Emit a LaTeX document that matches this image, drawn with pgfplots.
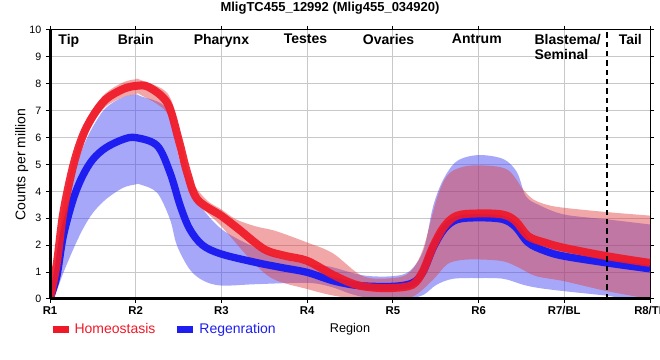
\documentclass[border=0pt]{standalone}
\usepackage{fontspec}
\setmainfont{Liberation Sans}
\usepackage{pgfplots}
\pgfplotsset{compat=1.18}
\usepgfplotslibrary{fillbetween}
\definecolor{lineRed}{RGB}{240,25,40}
\definecolor{lineBlue}{RGB}{30,30,240}
\definecolor{bandRed}{RGB}{224,60,60}
\definecolor{bandBlue}{RGB}{60,60,245}
\definecolor{gridgray}{RGB}{200,200,200}
\begin{document}
\begin{tikzpicture}
\begin{axis}[
  scale only axis, width=450pt, height=201.75pt,
  xmin=0, xmax=7, ymin=0, ymax=10,
  xtick={0,1,2,3,4,5,6,7},
  xticklabels={R1,R2,R3,R4,R5,R6,R7/BL,R8/TL},
  ytick={0,1,...,10},
  grid=major, grid style={gridgray, line width=0.75pt},
  axis line style={black, line width=0.75pt},
  tick style={black, line width=0.75pt}, major tick length=3pt, tick align=outside,
  x tick label style={font=\bfseries\fontsize{8.5}{10}\selectfont, yshift=1pt},
  y tick label style={font=\fontsize{8}{10}\selectfont},
  /pgf/number format/assume math mode=true,
  clip mode=individual,
  xlabel={Region},
  xlabel style={at={(axis description cs:0.5,-0.114)}, anchor=center, font=\fontsize{9.5}{12}\selectfont},
  ylabel={Counts per million},
  ylabel style={at={(axis description cs:-0.047,0.5)}, anchor=center, font=\fontsize{10.5}{12}\selectfont},
  legend style={draw=none, fill=none, at={(axis description cs:-0.004,-0.114)}, anchor=west,
    font=\fontsize{10.5}{12}\selectfont, inner sep=1pt},
  legend columns=2,
  legend cell align=left,
  /tikz/every even column/.append style={column sep=12pt},
  legend image code/.code={\draw[#1, line width=5pt] (0pt,0pt) -- (12pt,0pt);},
]
% ---- Regeneration band ----
\addplot[name path=bU, draw=none, smooth, tension=0.55, forget plot] coordinates {
(0,0) (0.08,1.1) (0.155,2.8) (0.27,4.5) (0.38,5.6) (0.5,6.4) (0.65,7.1) (0.85,7.5) (1.0,7.6) (1.05,7.55)
(1.37,7.05) (1.5,5.3) (1.63,4.2) (1.72,3.6) (2.0,2.6) (2.4,1.9) (2.7,1.5) (3.0,1.3) (3.27,1.2)
(3.65,0.88) (4.0,0.85) (4.2,1.05) (4.36,1.84) (4.47,3.45) (4.59,4.45) (4.75,5.13) (5.0,5.35) (5.29,5.2)
(5.45,4.7) (5.55,3.83) (5.7,3.5) (6.0,3.14) (6.5,2.96) (7.0,2.77)};
\addplot[name path=bL, draw=none, smooth, tension=0.55, forget plot] coordinates {
(0,0) (0.08,0.35) (0.155,0.97) (0.27,1.84) (0.38,2.58) (0.5,3.2) (0.65,3.7) (0.85,4.13) (1.0,4.26) (1.05,4.26)
(1.25,3.95) (1.4,2.96) (1.48,2.0) (1.63,1.1) (1.79,0.68) (2.0,0.5) (2.4,0.55) (3.0,0.6) (3.27,0.46)
(3.5,0.2) (3.7,0.05) (4.0,0) (4.2,0.02) (4.36,0.16) (4.51,0.53) (4.7,0.75) (5.0,0.78) (5.29,0.75)
(5.52,0.53) (5.7,0.41) (6.0,0.29) (6.5,0.12) (6.73,0) (7.0,0)};
\addplot[fill=bandBlue, fill opacity=0.45, draw=none, forget plot] fill between[of=bU and bL];
\addplot[lineBlue, line width=5.5pt, smooth, tension=0.55, forget plot] coordinates {
(0,0) (0.08,0.84) (0.155,2.33) (0.27,3.7) (0.38,4.57) (0.5,5.19) (0.65,5.62) (0.85,5.93) (1.0,6.0)
(1.25,5.7) (1.4,4.7) (1.52,3.46) (1.63,2.6) (1.78,2.0) (2.0,1.67) (2.4,1.36) (2.7,1.17) (3.0,0.99)
(3.3,0.68) (3.6,0.5) (4.0,0.47) (4.23,0.6) (4.35,1.0) (4.47,1.9) (4.6,2.6) (4.75,2.95) (5.0,3.02)
(5.28,2.96) (5.43,2.68) (5.58,2.09) (5.78,1.78) (6.0,1.59) (6.5,1.34) (7.0,1.12)};
% ---- Homeostasis band ----
\addplot[name path=rU, draw=none, smooth, tension=0.55, forget plot] coordinates {
(0,0) (0.08,1.6) (0.155,3.5) (0.27,5.2) (0.38,6.3) (0.5,7.05) (0.65,7.65) (0.85,8.05) (1.0,8.17) (1.05,8.15)
(1.37,7.65) (1.5,6.4) (1.63,4.57) (1.82,3.7) (2.0,3.33) (2.17,2.96) (2.4,2.7) (2.63,2.53) (3.0,2.1)
(3.3,1.7) (3.65,0.85) (4.0,0.78) (4.2,1.0) (4.35,1.84) (4.51,3.7) (4.63,4.57) (4.78,4.88) (5.0,4.97)
(5.33,4.82) (5.52,4.07) (5.64,3.7) (5.8,3.5) (6.0,3.39) (6.5,3.23) (7.0,3.1)};
\addplot[name path=rL, draw=none, smooth, tension=0.55, forget plot] coordinates {
(0,0) (0.08,1.1) (0.155,2.83) (0.27,4.57) (0.38,5.75) (0.5,6.55) (0.65,7.15) (0.85,7.5) (1.0,7.6) (1.05,7.6)
(1.37,6.9) (1.5,5.4) (1.67,3.8) (2.0,2.7) (2.33,1.5) (2.6,0.75) (3.0,0.37) (3.27,0.15) (3.5,0.05)
(4.0,0) (4.24,0.1) (4.47,0.72) (4.63,1.28) (4.78,1.44) (5.0,1.47) (5.29,1.4) (5.48,1.15) (5.67,0.85)
(6.0,0.66) (6.5,0.29) (7.0,0)};
\addplot[fill=bandRed, fill opacity=0.45, draw=none, forget plot] fill between[of=rU and rL];
\addplot[lineRed, line width=6pt, opacity=0.92, smooth, tension=0.55, forget plot] coordinates {
(0,0) (0.08,1.34) (0.155,3.2) (0.27,4.94) (0.38,6.05) (0.5,6.8) (0.65,7.42) (0.85,7.8) (1.0,7.92)
(1.15,7.88) (1.37,7.28) (1.5,5.93) (1.6,4.7) (1.72,3.7) (2.0,3.09) (2.2,2.6) (2.5,1.85) (2.75,1.6)
(3.0,1.42) (3.3,0.9) (3.55,0.55) (3.75,0.43) (4.0,0.41) (4.23,0.53) (4.35,1.03) (4.47,1.96) (4.6,2.7)
(4.75,3.1) (5.0,3.18) (5.28,3.14) (5.43,2.9) (5.58,2.33) (5.78,2.09) (6.0,1.9) (6.5,1.59) (7.0,1.34)};
% ---- dashed separator ----
\addplot[black, line width=1.5pt, dash pattern=on 4pt off 3pt, forget plot] coordinates {(6.5,0) (6.5,10)};
% ---- legend ----
\addlegendimage{lineRed}
\addlegendentry{\textcolor{lineRed}{Homeostasis}}
\addlegendimage{lineBlue}
\addlegendentry{\textcolor{lineBlue}{Regenration}}
% ---- thick axes ----
\draw[black, line width=2.25pt] (axis cs:0,0) -- (axis cs:0,10);
\draw[black, line width=2.25pt] (axis cs:0,0) -- (axis cs:7,0);
% ---- title ----
\node[font=\bfseries\fontsize{9.75}{12}\selectfont, anchor=center, inner sep=0pt] at (rel axis cs:0.4667,1.08) {MligTC455\_12992 (Mlig455\_034920)};
% ---- region labels ----
\begin{scope}[every node/.style={font=\bfseries\fontsize{10.5}{11.25}\selectfont, anchor=north, inner sep=0pt}]
\node at (axis cs:0.22,9.85) {Tip};
\node at (axis cs:1.0,9.85) {Brain};
\node at (axis cs:2.0,9.85) {Pharynx};
\node at (axis cs:2.98,9.85) {Testes};
\node at (axis cs:3.95,9.85) {Ovaries};
\node at (axis cs:4.98,9.85) {Antrum};
\node[anchor=north west, align=left] at (axis cs:5.65,9.85) {Blastema/\\Seminal};
\node at (axis cs:6.77,9.85) {Tail};
\end{scope}
\end{axis}
\pgfresetboundingbox
\useasboundingbox ([xshift=-37.5pt,yshift=-45.75pt]current axis.south west) rectangle ([xshift=7.5pt,yshift=22.5pt]current axis.north east);
\end{tikzpicture}
\end{document}
